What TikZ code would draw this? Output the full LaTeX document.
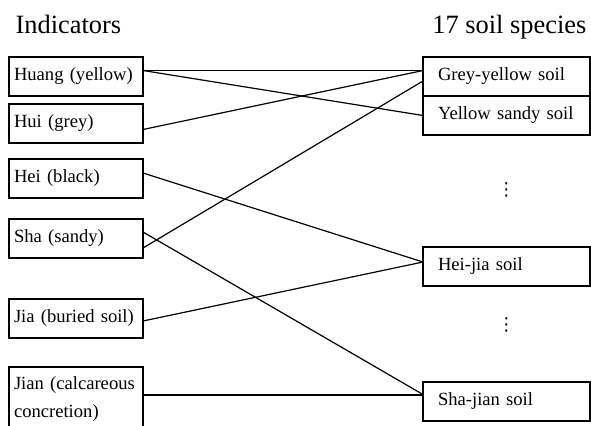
\documentclass[tikz,border=0pt]{standalone}
\usepackage{fontspec}
\setmainfont{Liberation Serif}
\newfontfamily\dotsfont{DejaVu Sans}
\usetikzlibrary{positioning}

\begin{document}
\begin{tikzpicture}[x=0.5pt, y=-0.5pt, line width=0.6pt,
    indicator/.style={draw, outer sep=0pt, minimum height=19.5pt, inner xsep=2.5pt, text width=62pt, align=left, font=\fontsize{9.3}{14}\selectfont},
    species/.style={draw, outer sep=0pt, minimum height=19.5pt, inner xsep=7.5pt, text width=68.5pt, align=left, font=\fontsize{9.3}{14}\selectfont},
    heading/.style={inner sep=0pt, font=\fontsize{13.2}{15}\selectfont},
    more/.style={inner sep=0pt, font=\dotsfont\fontsize{9}{10}\selectfont}]
    \useasboundingbox (0,0) rectangle (591,425);

    \node (indicators) [heading, anchor=base west] at (15,33) {Indicators};
    \node (soilspecies) [heading, anchor=base east] at (587,33) {17 soil species};

    \node (huang) [indicator, anchor=north west] at (9,57) {Huang (yellow)};
    \node (hui) [indicator, below=4pt of huang] {Hui (grey)};
    \node (hei) [indicator, below=8pt of hui] {Hei (black)};
    \node (sha) [indicator, below=10.5pt of hei] {Sha (sandy)};
    \node (jia) [indicator, below=20.5pt of sha] {Jia (buried soil)};
    \node (jian) [indicator, below=14.5pt of jia, minimum height=32pt] {Jian (calcareous\\concretion)};

    \node (greyyellow) [species, anchor=north west] at (423,57) {Grey-yellow soil};
    \node (yellowsandy) [species, below=0pt of greyyellow] {Yellow sandy soil};
    \node (heijia) [species, below=56pt of yellowsandy] {Hei-jia soil};
    \node (shajian) [species, below=48pt of heijia] {Sha-jian soil};

    \node (dotsA) [more, below=27.5pt of yellowsandy, anchor=center] {⋮};
    \node (dotsB) [more, below=19.5pt of heijia, anchor=center] {⋮};

    % indicator -> soil species
    \draw ([yshift=3pt]huang.east) -- ([yshift=3pt]greyyellow.west);
    \draw ([yshift=3pt]huang.east) -- (yellowsandy.west);
    \draw ([yshift=-3pt]hui.east) -- ([yshift=3pt]greyyellow.west);
    \draw ([yshift=2.75pt]hei.east) -- ([yshift=2.25pt]heijia.west);
    \draw ([yshift=-4.75pt]sha.east) -- ([yshift=-2.25pt]greyyellow.west);
    \draw ([yshift=3.25pt]sha.east) -- ([yshift=3.5pt]shajian.west);
    \draw ([yshift=-1.25pt]jia.east) -- ([yshift=2.25pt]heijia.west);
    \draw ([yshift=2pt]jian.east) -- ([yshift=3.25pt]shajian.west);
\end{tikzpicture}
\end{document}
